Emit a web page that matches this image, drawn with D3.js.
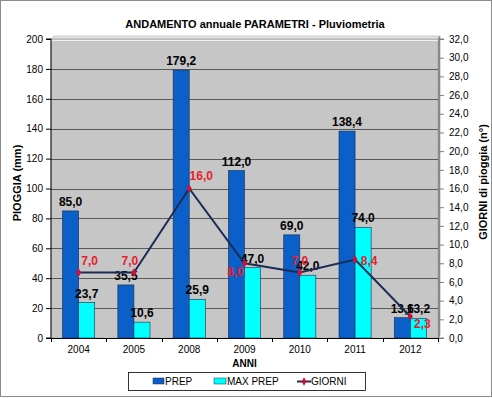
<!DOCTYPE html>
<html>
<head>
<meta charset="utf-8">
<script src="https://cdn.jsdelivr.net/npm/d3@7"></script>
<style>
  body { margin: 0; background: #fff; }
  svg { display: block; font-family: Arial, "Liberation Sans", sans-serif; }
</style>
</head>
<body>
<div id="chart"></div>
<script>
var anni = ["2004", "2005", "2008", "2009", "2010", "2011", "2012"];
var prep = [85.0, 35.5, 179.2, 112.0, 69.0, 138.4, 13.6];
var maxPrep = [23.7, 10.6, 25.9, 47.0, 42.0, 74.0, 13.2];
var giorni = [7.0, 7.0, 16.0, 8.0, 7.0, 8.4, 2.3];
var leftTicks = [0, 20, 40, 60, 80, 100, 120, 140, 160, 180, 200];
var rightTicks = d3.range(0, 33, 2);

// where each red label sits relative to its point (moved by hand in the original)
var labelOffset = [[11, -8], [-4, -8], [12, -9], [-9, 13], [0, -8], [14, 5], [12, 11]];

var W = 492, H = 398;
var pLeft = 51, pRight = 438, pTop = 39, pBottom = 338;

var it = d3.formatLocale({decimal: ",", thousands: ".", grouping: [3], currency: ["", "€"]});
var f1 = it.format(".1f");

var svg = d3.select("#chart").append("svg")
  .attr("width", W)
  .attr("height", H);

svg.append("rect")
  .attr("x", 0.5).attr("y", 0.5)
  .attr("width", W - 1).attr("height", H - 2)
  .attr("fill", "#fff")
  .attr("stroke", "#8c8c8c");

var x = d3.scaleBand().domain(anni).range([pLeft, pRight]).padding(0);
var x1 = d3.scaleBand().domain(["prep", "max"]).range([0, x.bandwidth()]).paddingInner(0).paddingOuter(0.72);
var y = d3.scaleLinear().domain([0, 200]).range([pBottom, pTop]);
var yR = d3.scaleLinear().domain([0, 32]).range([pBottom, pTop]);

// wall (3d look)
svg.append("polygon")
  .attr("points", [[pLeft, pTop], [pLeft + 3, pTop - 3], [pRight + 2, pTop - 3], [pRight, pTop]].join(" "))
  .attr("fill", "#e4e4e4").attr("stroke", "#a0a0a0").attr("stroke-width", 0.5);
svg.append("polygon")
  .attr("points", [[pRight, pTop], [pRight + 2, pTop - 3], [pRight + 2, pBottom - 3], [pRight, pBottom]].join(" "))
  .attr("fill", "#9a9a9a").attr("stroke", "#707070").attr("stroke-width", 0.5);
svg.append("rect")
  .attr("x", pLeft).attr("y", pTop)
  .attr("width", pRight - pLeft).attr("height", pBottom - pTop)
  .attr("fill", "#c6c6c6")
  .attr("stroke", "#9a9a9a").attr("stroke-width", 0.5);

// grid
svg.append("g").selectAll("line")
  .data(leftTicks.slice(1, -1))
  .enter().append("line")
  .attr("x1", pLeft).attr("x2", pRight)
  .attr("y1", function(d) { return Math.round(y(d)) + 0.5; })
  .attr("y2", function(d) { return Math.round(y(d)) + 0.5; })
  .attr("stroke", "#5a5a5a").attr("stroke-width", 1);
svg.append("line")
  .attr("x1", pLeft).attr("x2", pRight)
  .attr("y1", pTop + 1.5).attr("y2", pTop + 1.5)
  .attr("stroke", "#f0f0f0");

// axes
var yAxis = d3.axisLeft(y).tickValues(leftTicks).tickSize(5).tickPadding(3).tickFormat(d3.format("d"));
var gy = svg.append("g").attr("transform", "translate(" + pLeft + ",0)").call(yAxis);

var yAxisR = d3.axisRight(yR).tickValues(rightTicks).tickSize(5).tickPadding(5).tickFormat(f1);
var gyR = svg.append("g").attr("transform", "translate(" + (pRight + 1) + ",0)").call(yAxisR);

var xAxis = d3.axisBottom(x).tickSize(0).tickPadding(8);
var gx = svg.append("g").attr("transform", "translate(0," + pBottom + ")").call(xAxis);

svg.append("g").selectAll("line")
  .data(d3.range(anni.length + 1))
  .enter().append("line")
  .attr("x1", function(i) { return Math.round(pLeft + i * x.step()) + 0.5; })
  .attr("x2", function(i) { return Math.round(pLeft + i * x.step()) + 0.5; })
  .attr("y1", pBottom).attr("y2", pBottom + 4)
  .attr("stroke", "#000");

[gy, gyR, gx].forEach(function(g) {
  g.selectAll("text").attr("font-size", 10).attr("fill", "#000").attr("font-family", "Arial, 'Liberation Sans', sans-serif");
  g.selectAll("line").attr("stroke", "#000");
  g.select(".domain").attr("stroke", "#000");
});
gy.select(".domain").attr("d", "M-5," + pTop + "H0V" + pBottom + "H-5");
gyR.select(".domain").attr("d", "M5," + pTop + "H0V" + pBottom + "H5").attr("stroke", "#808080");
gyR.selectAll("line").attr("stroke", "#808080");
gx.select(".domain").attr("d", "M" + pLeft + ",0.5H" + pRight);

// bars
var bars = svg.append("g");
bars.selectAll(".prep")
  .data(prep)
  .enter().append("rect")
  .attr("class", "prep")
  .attr("x", function(d, i) { return x(anni[i]) + x1("prep"); })
  .attr("width", x1.bandwidth())
  .attr("y", function(d) { return y(d); })
  .attr("height", function(d) { return pBottom - y(d); })
  .attr("fill", "#0a5fc8")
  .attr("stroke", "#1a2a4a").attr("stroke-width", 0.6);
bars.selectAll(".max")
  .data(maxPrep)
  .enter().append("rect")
  .attr("class", "max")
  .attr("x", function(d, i) { return x(anni[i]) + x1("max"); })
  .attr("width", x1.bandwidth())
  .attr("y", function(d) { return y(d); })
  .attr("height", function(d) { return pBottom - y(d); })
  .attr("fill", "#00ffff")
  .attr("stroke", "#1a2a4a").attr("stroke-width", 0.6);

// bar labels
svg.append("g").selectAll("text")
  .data(prep)
  .enter().append("text")
  .attr("x", function(d, i) { return x(anni[i]) + x1("prep") + x1.bandwidth() / 2; })
  .attr("y", function(d) { return y(d) - 5; })
  .attr("text-anchor", "middle")
  .attr("font-size", 12).attr("font-weight", "bold")
  .text(function(d) { return f1(d); });
svg.append("g").selectAll("text")
  .data(maxPrep)
  .enter().append("text")
  .attr("x", function(d, i) { return x(anni[i]) + x1("max") + x1.bandwidth() / 2; })
  .attr("y", function(d) { return y(d) - 5; })
  .attr("text-anchor", "middle")
  .attr("font-size", 12).attr("font-weight", "bold")
  .text(function(d) { return f1(d); });

// line
var cx = function(i) { return x(anni[i]) + x.bandwidth() / 2; };
var line = d3.line()
  .x(function(d, i) { return cx(i); })
  .y(function(d) { return yR(d); });
svg.append("path")
  .datum(giorni)
  .attr("d", line)
  .attr("fill", "none")
  .attr("stroke", "#1b2b55")
  .attr("stroke-width", 2);
svg.append("g").selectAll("path")
  .data(giorni)
  .enter().append("path")
  .attr("d", d3.symbol().type(d3.symbolDiamond).size(22))
  .attr("transform", function(d, i) { return "translate(" + cx(i) + "," + yR(d) + ")"; })
  .attr("fill", "#d0103a");
svg.append("g").selectAll("text")
  .data(giorni)
  .enter().append("text")
  .attr("x", function(d, i) { return cx(i) + labelOffset[i][0]; })
  .attr("y", function(d, i) { return yR(d) + labelOffset[i][1]; })
  .attr("text-anchor", "middle")
  .attr("font-size", 12).attr("font-weight", "bold")
  .attr("fill", "#e8202a")
  .text(function(d) { return f1(d); });

// titles
svg.append("text")
  .attr("x", 255).attr("y", 28)
  .attr("text-anchor", "middle")
  .attr("font-size", 11).attr("font-weight", "bold")
  .text("ANDAMENTO annuale PARAMETRI - Pluviometria");
svg.append("text")
  .attr("x", (pLeft + pRight) / 2).attr("y", 367)
  .attr("text-anchor", "middle")
  .attr("font-size", 10).attr("font-weight", "bold")
  .text("ANNI");
svg.append("text")
  .attr("transform", "translate(21,183) rotate(-90)")
  .attr("text-anchor", "middle")
  .attr("font-size", 11).attr("font-weight", "bold")
  .text("PIOGGIA  (mm)");
svg.append("text")
  .attr("transform", "translate(487,182) rotate(-90)")
  .attr("text-anchor", "middle")
  .attr("font-size", 11).attr("font-weight", "bold")
  .text("GIORNI di pioggia  (n°)");

// legend
var lg = svg.append("g");
lg.append("rect")
  .attr("x", 128.5).attr("y", 372.5)
  .attr("width", 237).attr("height", 18)
  .attr("fill", "#fff").attr("stroke", "#000").attr("stroke-width", 0.8);
lg.append("rect").attr("x", 153).attr("y", 378).attr("width", 11).attr("height", 6)
  .attr("fill", "#0a5fc8").attr("stroke", "#1a2a4a").attr("stroke-width", 0.5);
lg.append("text").attr("x", 165).attr("y", 385).attr("font-size", 10).text("PREP");
lg.append("rect").attr("x", 214).attr("y", 378).attr("width", 12).attr("height", 6)
  .attr("fill", "#00ffff").attr("stroke", "#1a2a4a").attr("stroke-width", 0.5);
lg.append("text").attr("x", 227).attr("y", 385).attr("font-size", 10).text("MAX PREP");
lg.append("line").attr("x1", 297).attr("x2", 311).attr("y1", 381.5).attr("y2", 381.5)
  .attr("stroke", "#1b2b55").attr("stroke-width", 2);
lg.append("path").attr("d", d3.symbol().type(d3.symbolDiamond).size(20))
  .attr("transform", "translate(304,381.5)").attr("fill", "#d0103a");
lg.append("text").attr("x", 311).attr("y", 385).attr("font-size", 10).text("GIORNI");
</script>
</body>
</html>
